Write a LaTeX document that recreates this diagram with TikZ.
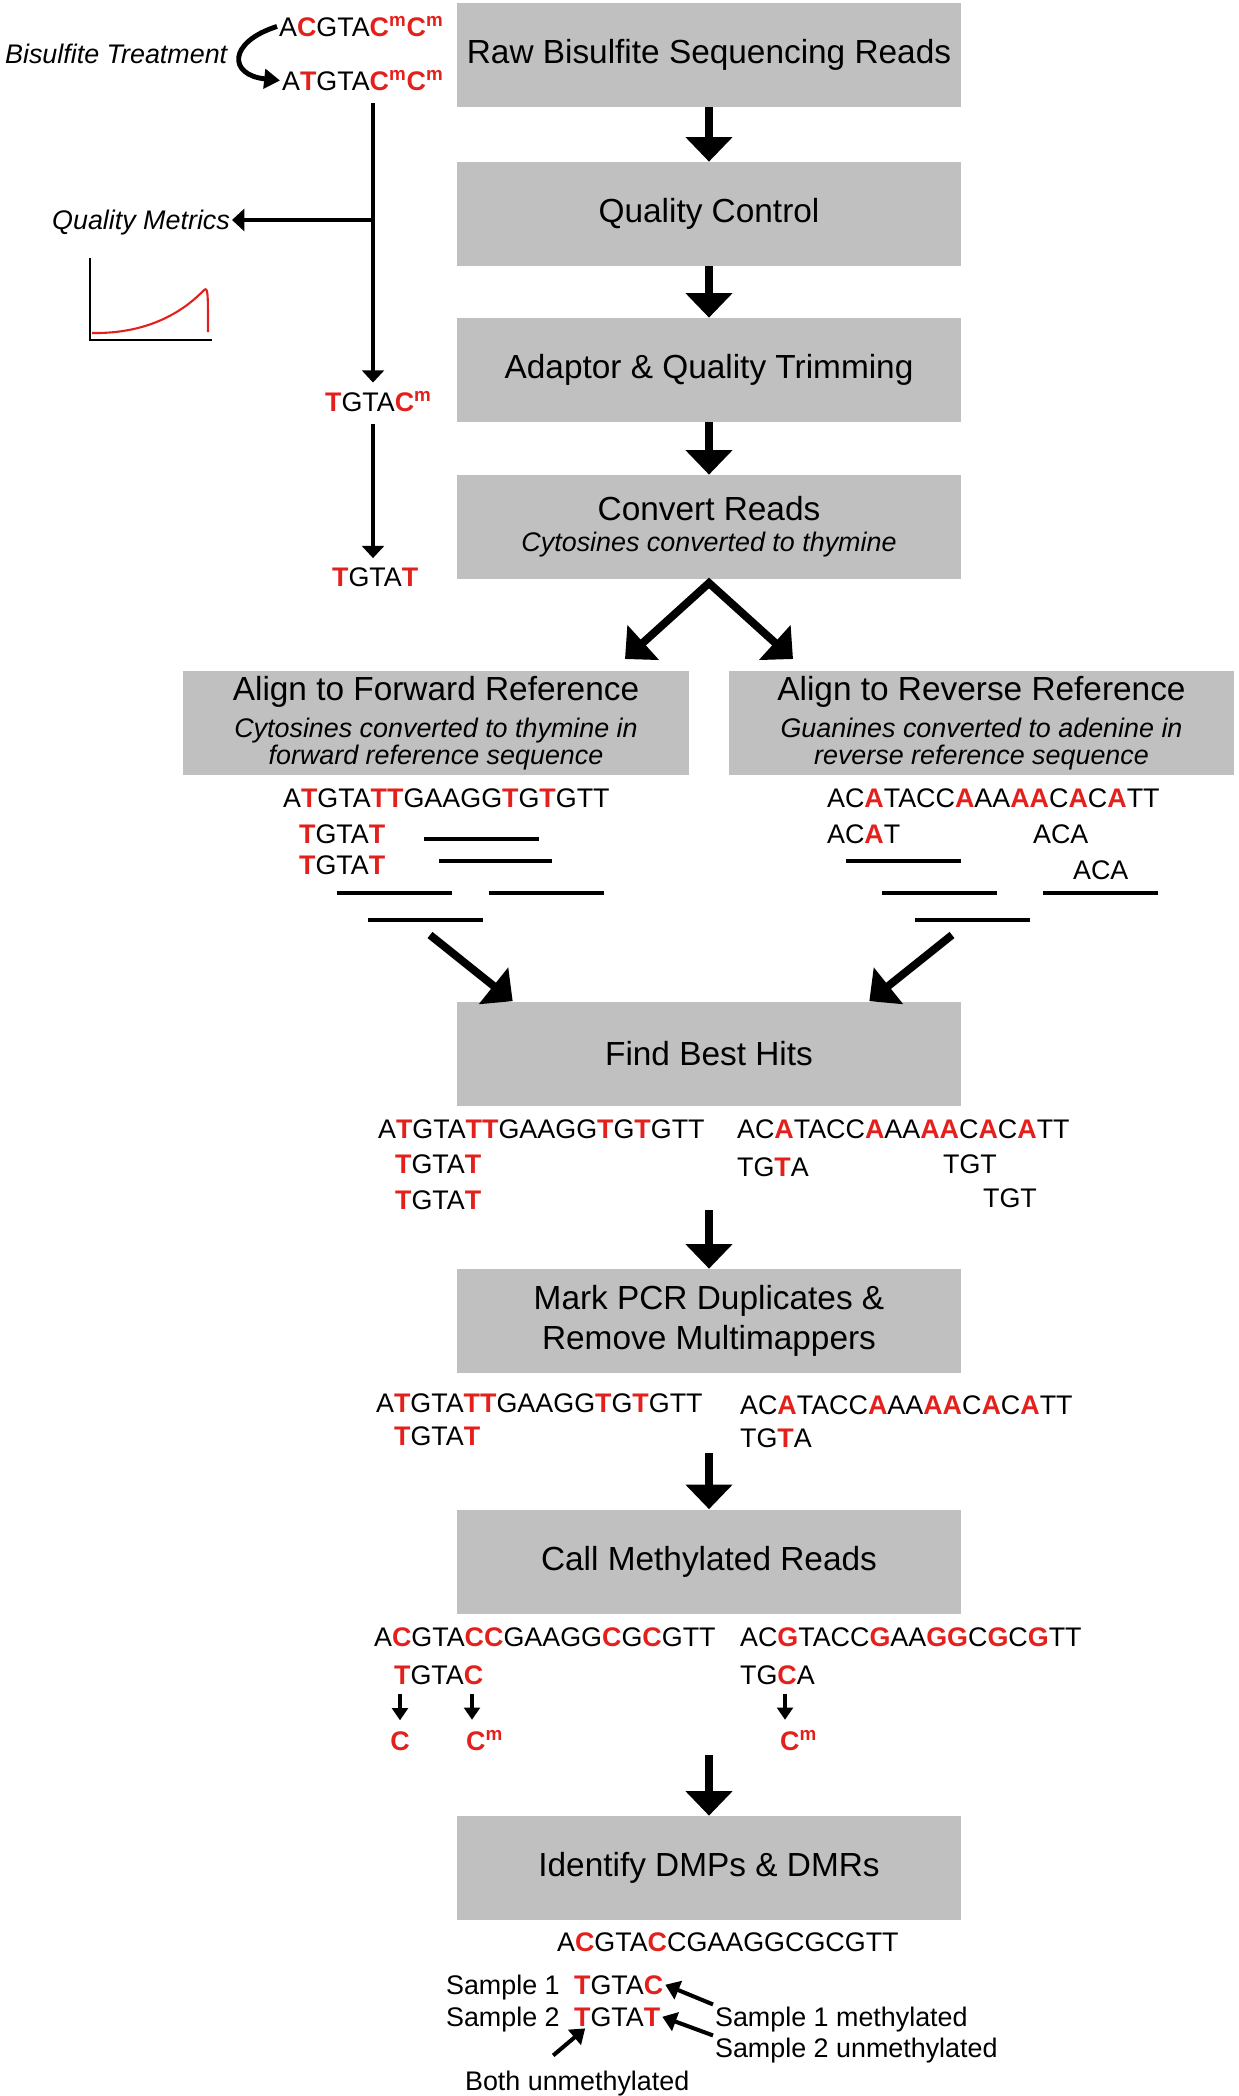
\documentclass[tikz,border=0pt]{standalone}
\usepackage{fontspec}
\setmainfont{Liberation Sans}
\usepackage{xcolor}
\usetikzlibrary{arrows.meta}
\definecolor{boxgray}{RGB}{192,192,192}
\definecolor{dnared}{RGB}{228,32,28}
\newcommand{\rd}[1]{\textcolor{dnared}{\textbf{#1}}}
\newcommand{\cmeth}{\rd{C\textsuperscript{m}}}
\newcommand{\subfont}{\fontsize{15.3}{15.5}\selectfont\itshape}
\tikzset{
  stepbox/.style={fill=boxgray, minimum width=10.08cm, minimum height=2.08cm, inner sep=0pt, align=center, font=\fontsize{19}{23}\selectfont},
  seq/.style={anchor=base west, inner sep=1pt, font=\fontsize{15.3}{18}\selectfont},
  bigarrow/.style={line width=4.5pt, -{Triangle[width=26pt,length=14pt]}},
  midarrow/.style={line width=2.3pt, -{Triangle[width=12.5pt,length=7pt]}},
  smallarrow/.style={line width=2pt, -{Triangle[width=9pt,length=7pt]}},
  idarrow/.style={line width=2.3pt, -{Triangle[width=11pt,length=8pt]}},
  readline/.style={line width=2.3pt}
}

\begin{document}
\begin{tikzpicture}[x=0.02cm, y=-0.02cm]
\useasboundingbox (0,0) rectangle (1238,2096);
% Pipeline steps
\node[stepbox] (raw) at (709,55) {Raw Bisulfite Sequencing Reads};
\node[stepbox] (qc) at (709,214) {Quality Control};
\node[stepbox] (trim) at (709,370) {Adaptor \& Quality Trimming};
\node[stepbox] (conv) at (709,527) {Convert Reads\\[-5.5pt]\subfont Cytosines converted to thymine};
\node[stepbox, minimum width=10.12cm] (alignf) at (436,723) {Align to Forward Reference\\[-2pt]\subfont Cytosines converted to thymine in\\[-7.5pt]\subfont forward reference sequence};
\node[stepbox, minimum width=10.1cm] (alignr) at (981.5,723) {Align to Reverse Reference\\[-2pt]\subfont Guanines converted to adenine in\\[-7.5pt]\subfont reverse reference sequence};
\node[stepbox] (best) at (709,1053.5) {Find Best Hits};
\node[stepbox] (dedup) at (709,1321) {Mark PCR Duplicates \&\\Remove Multimappers};
\node[stepbox] (call) at (709,1561.5) {Call Methylated Reads};
\node[stepbox] (dmr) at (709,1868) {Identify DMPs \& DMRs};
\draw[bigarrow] (raw) -- (qc);
\draw[bigarrow] (qc) -- (trim);
\draw[bigarrow] (trim) -- (conv);
\coordinate (split) at (709,583);
\coordinate (fwdin) at (625,659);
\coordinate (revin) at (793,659);
\draw[line width=4.5pt, line join=miter, {Triangle[width=26pt,length=14pt]}-{Triangle[width=26pt,length=14pt]}] (fwdin) -- (split) -- (revin);

% Bisulfite treatment
\node[seq, font=\fontsize{15.3}{18}\selectfont\itshape] (bistreat) at (3,63) {Bisulfite Treatment};
\node[seq] (seqa) at (277,36) {A\rd{C}GTA\cmeth\cmeth};
\node[seq] (seqb) at (280,90) {A\rd{T}GTA\cmeth\cmeth};
\draw[line width=2.8pt, -{Triangle[width=11pt,length=9pt]}] (seqa.west) .. controls (228,42) and (228,75) .. (seqb.west);
\coordinate (bisstart) at (373,103);
\coordinate (qcbranch) at (373,220);
\node[seq] (tgtacm) at (323,411) {\rd{T}GTA\cmeth};
\draw[midarrow, shorten >=4pt] (bisstart) -- (bisstart |- tgtacm.north);
\node[seq, font=\fontsize{15.3}{18}\selectfont\itshape, anchor=base east] (qmetric) at (232,229) {Quality Metrics};
\draw[midarrow] (qcbranch) -- (qcbranch -| qmetric.east);
\draw[line width=1.7pt] (90,258) -- (90,340) -- (212,340);
\draw[dnared, line width=1.2pt] (92,333) .. controls (150,334) and (185,310) .. (204,290) .. controls (208,287) and (208,292) .. (208,332);
\coordinate (convstart) at (373,424);
\node[seq] (tgtat) at (330,586) {\rd{T}GTA\rd{T}};
\draw[midarrow, shorten >=4pt] (convstart) -- (convstart |- tgtat.north);

% Alignment
\node[seq] (fref) at (281,807) {A\rd{T}GTA\rd{TT}GAAGG\rd{T}G\rd{T}GTT};
\node[seq] (fread1) at (297,843) {\rd{T}GTA\rd{T}};
\node[seq] (fread2) at (297,874) {\rd{T}GTA\rd{T}};
\node[seq] (rref) at (825,807) {AC\rd{A}TACC\rd{A}AA\rd{AA}C\rd{A}C\rd{A}TT};
\node[seq] (rread1) at (825,843) {AC\rd{A}T};
\node[seq] (rread2) at (1031,843) {ACA};
\node[seq] (rread3) at (1071,879) {ACA};
\foreach \xa/\xb/\yy in {424/539/839, 439/552/861, 337/452/893, 489/604/893, 368/483/920, 846/961/861, 882/997/893, 1043/1158/893, 915/1030/920}
  \draw[readline] (\xa,\yy) -- (\xb,\yy);
\coordinate (fwdout) at (430,935);
\coordinate (revout) at (952,935);
\draw[bigarrow] (fwdout) -- ([xshift=1.12cm]best.north west);
\draw[bigarrow] (revout) -- ([xshift=-1.84cm]best.north east);

% Best hits
\node[seq] (bref1) at (376,1138) {A\rd{T}GTA\rd{TT}GAAGG\rd{T}G\rd{T}GTT};
\node[seq] (bread1) at (393,1173) {\rd{T}GTA\rd{T}};
\node[seq] (bread2) at (393,1209) {\rd{T}GTA\rd{T}};
\node[seq] (bref2) at (735,1138) {AC\rd{A}TACC\rd{A}AA\rd{AA}C\rd{A}C\rd{A}TT};
\node[seq] (bread3) at (735,1176) {TG\rd{T}A};
\node[seq] (bread4) at (941,1173) {TGT};
\node[seq] (bread5) at (981,1207) {TGT};
\coordinate (bestout) at (709,1210);
\draw[bigarrow] (bestout) -- (dedup);

% Deduplication
\node[seq] (pref1) at (374,1412) {A\rd{T}GTA\rd{TT}GAAGG\rd{T}G\rd{T}GTT};
\node[seq] (pread1) at (392,1445) {\rd{T}GTA\rd{T}};
\node[seq] (pref2) at (738,1414) {AC\rd{A}TACC\rd{A}AA\rd{AA}C\rd{A}C\rd{A}TT};
\node[seq] (pread2) at (738,1447) {TG\rd{T}A};
\coordinate (dedupout) at (709,1453);
\draw[bigarrow] (dedupout) -- (call);

% Methylation calls
\node[seq] (cref1) at (372,1646) {A\rd{C}GTA\rd{CC}GAAGG\rd{C}G\rd{C}GTT};
\node[seq] (cread1) at (392,1684) {\rd{T}GTA\rd{C}};
\node[seq] (cref2) at (738,1646) {AC\rd{G}TACC\rd{G}AA\rd{GG}C\rd{G}C\rd{G}TT};
\node[seq] (cread2) at (738,1684) {TG\rd{C}A};
\node[seq, anchor=base] (cun) at (400,1750) {\rd{C}};
\node[seq] (cm1) at (464,1750) {\cmeth};
\node[seq] (cm2) at (778,1750) {\cmeth};
\coordinate (carr1) at (400,1694);
\coordinate (carr2) at (472,1694);
\coordinate (carr3) at (785,1694);
\draw[smallarrow, shorten >=5pt] (carr1) -- (cun);
\draw[smallarrow, shorten >=5pt] (carr2) -- (carr2 |- cm1.north);
\draw[smallarrow, shorten >=5pt] (carr3) -- (carr3 |- cm2.north);
\coordinate (callout) at (709,1755);
\draw[bigarrow] (callout) -- (dmr);

% DMPs and DMRs
\node[seq] (dref) at (555,1951) {A\rd{C}GTA\rd{C}CGAAGGCGCGTT};
\node[seq] (samp1) at (444,1994) {Sample 1};
\node[seq] (dread1) at (572,1994) {\rd{T}GTA\rd{C}};
\node[seq] (samp2) at (444,2026) {Sample 2};
\node[seq] (dread2) at (572,2026) {\rd{T}GTA\rd{T}};
\node[seq] (meth1) at (713,2026) {Sample 1 methylated};
\node[seq] (meth2) at (713,2057) {Sample 2 unmethylated};
\node[seq] (both) at (463,2090) {Both unmethylated};
\draw[idarrow] (meth1.north west) -- (dread1.east);
\draw[idarrow] (meth2.north west) -- (dread2.east);
\draw[idarrow] ([shift={(-0.48cm,0.26cm)}]both.north) -- ([xshift=-0.64cm]dread2.south);
\end{tikzpicture}
\end{document}
